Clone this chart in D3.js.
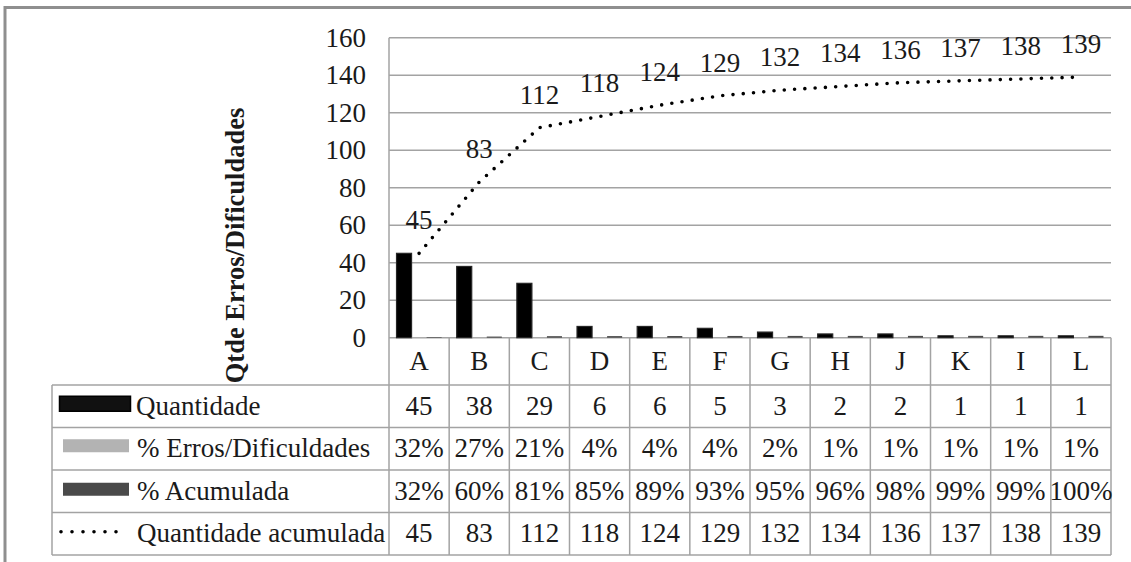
<!DOCTYPE html>
<html>
<head>
<meta charset="utf-8">
<script src="https://cdn.jsdelivr.net/npm/d3@7"></script>
</head>
<body style="margin:0">
<svg id="chart" width="1131" height="562"></svg>
<script>
const categories = ["A","B","C","D","E","F","G","H","J","K","I","L"];
const quantidade = [45,38,29,6,6,5,3,2,2,1,1,1];
const pctErros = [32,27,21,4,4,4,2,1,1,1,1,1];
const pctAcumulada = [32,60,81,85,89,93,95,96,98,99,99,100];
const qtdAcumulada = [45,83,112,118,124,129,132,134,136,137,138,139];
const yTicks = [0,20,40,60,80,100,120,140,160];
const seriesNames = ["Quantidade","% Erros/Dificuldades","% Acumulada","Quantidade acumulada"];
const yTitle = "Qtde Erros/Dificuldades";

(function(){
const svg = d3.select("#chart");
const FS = 27;
const FONT = '"Liberation Serif"';
const TXT = "#1a1a1a";
const pLeft = 389, pRight = 1111, pTop = 37.7, pBottom = 337.7;
const tableLeft = 52;
const catRowBottom = 385;
const rowH = 42.5;
const gridColor = "#a3a3a3";

function styleText(sel){
  return sel.attr("font-family",FONT).attr("font-size",FS).attr("font-weight",400).attr("font-style","normal").attr("fill",TXT);
}

// frame
svg.append("rect").attr("x",5).attr("y",7.5).attr("width",1140).attr("height",600)
  .attr("fill","none").attr("stroke","#8f8f8f").attr("stroke-width",3);

const y = d3.scaleLinear().domain([0,160]).range([pBottom, pTop]);
const x = d3.scaleBand().domain(categories).range([pLeft, pRight]).paddingInner(0).paddingOuter(0);
const bw = x.bandwidth();
const xs = d3.scaleBand().domain([0,1,2]).range([bw*0.125, bw*0.875]).padding(0);

// gridlines
svg.append("g").selectAll("line").data(yTicks).join("line")
  .attr("x1",pLeft).attr("x2",pRight)
  .attr("y1",d=>y(d)).attr("y2",d=>y(d))
  .attr("stroke",gridColor).attr("stroke-width",1.5);

// y axis labels (tick text drawn from the scale)
const gy = svg.append("g");
styleText(gy.selectAll("text").data(yTicks).join("text"))
  .attr("x",366).attr("y",d=>y(d)).attr("dy","0.33em").attr("text-anchor","end").text(d=>d);

// y title
styleText(svg.append("text")).attr("transform",`translate(244,${245.5}) rotate(-90)`)
  .attr("text-anchor","middle").attr("font-size",26.5).attr("font-weight",700).text(yTitle);

// bars
const barSeries = [
  {vals: quantidade, color:"#000000", stroke:"#262626"},
  {vals: pctErros.map(v=>v/100), color:"#b3b3b3", stroke:"none"},
  {vals: pctAcumulada.map(v=>v/100), color:"#4a4a4a", stroke:"none"}
];
barSeries.forEach((s,i)=>{
  svg.append("g").selectAll("rect").data(categories).join("rect")
    .attr("x",(c)=>x(c)+xs(i))
    .attr("width",xs.bandwidth())
    .attr("y",(c,j)=>y(s.vals[j]))
    .attr("height",(c,j)=>y(0)-y(s.vals[j]))
    .attr("fill",s.color)
    .attr("stroke",s.stroke).attr("stroke-width",1.2);
});

// cumulative line
const line = d3.line().x((d,i)=>x(categories[i])+bw/2).y(d=>y(d));
svg.append("path").datum(qtdAcumulada).attr("d",line)
  .attr("fill","none").attr("stroke","#000").attr("stroke-width",3.6)
  .attr("stroke-linecap","round").attr("stroke-dasharray","0 10.3");

// line labels
styleText(svg.append("g").selectAll("text").data(qtdAcumulada).join("text"))
  .attr("x",(d,i)=>x(categories[i])+bw/2)
  .attr("y",d=>y(d)-24)
  .attr("text-anchor","middle").text(d=>d);

// table grid
const nRows = 4;
const tableBottom = catRowBottom + nRows*rowH;
const tg = svg.append("g").attr("stroke",gridColor).attr("stroke-width",1.5);
categories.forEach((c,i)=>{
  tg.append("line").attr("x1",x(c)).attr("x2",x(c))
    .attr("y1", i===0 ? pTop : pBottom).attr("y2",tableBottom);
});
tg.append("line").attr("x1",pRight).attr("x2",pRight).attr("y1",pBottom).attr("y2",tableBottom);
tg.append("line").attr("x1",tableLeft).attr("x2",tableLeft).attr("y1",catRowBottom).attr("y2",tableBottom);
d3.range(nRows+1).forEach(r=>{
  const yy = catRowBottom + r*rowH;
  tg.append("line").attr("x1",tableLeft).attr("x2",pRight).attr("y1",yy).attr("y2",yy);
});

// category labels
styleText(svg.append("g").selectAll("text").data(categories).join("text"))
  .attr("x",c=>x(c)+bw/2).attr("y",(pBottom+catRowBottom)/2+8.5)
  .attr("text-anchor","middle").text(c=>c);

// table values
const rows = [
  quantidade.map(String),
  pctErros.map(v=>v+"%"),
  pctAcumulada.map(v=>v+"%"),
  qtdAcumulada.map(String)
];
rows.forEach((vals,r)=>{
  const cy = catRowBottom + r*rowH + rowH/2;
  styleText(svg.append("g").selectAll("text").data(vals).join("text"))
    .attr("x",(v,i)=>x(categories[i])+bw/2).attr("y",cy+8.5)
    .attr("text-anchor","middle").text(v=>v);
});

// legend keys in table
const lg = svg.append("g");
const rc = r => catRowBottom + r*rowH + rowH/2;
lg.append("rect").attr("x",59.5).attr("y",rc(0)-10).attr("width",71).attr("height",15)
  .attr("fill","#111").attr("stroke","#000").attr("stroke-width",1.5);
lg.append("rect").attr("x",63).attr("y",rc(1)-9.5).attr("width",66).attr("height",13).attr("fill","#b3b3b3");
lg.append("rect").attr("x",63).attr("y",rc(2)-8.5).attr("width",66).attr("height",13).attr("fill","#4a4a4a");
lg.append("line").attr("x1",61).attr("x2",127).attr("y1",rc(3)-2).attr("y2",rc(3)-2)
  .attr("stroke","#000").attr("stroke-width",3.6).attr("stroke-linecap","round").attr("stroke-dasharray","0 11");
seriesNames.forEach((n,r)=>{
  styleText(lg.append("text")).attr("x",r===0?136:137).attr("y",rc(r)+8.5).text(n);
});
})();
</script>
</body>
</html>
